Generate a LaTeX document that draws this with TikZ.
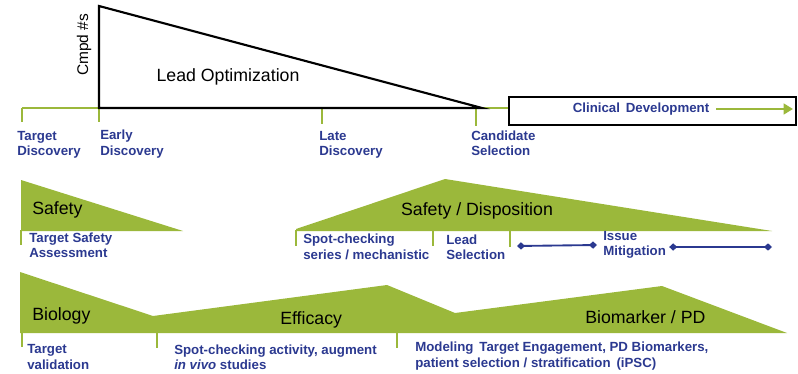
\documentclass[tikz,border=0pt]{standalone}
\usepackage{fontspec}
\setmainfont{Liberation Sans}
\usetikzlibrary{arrows.meta}
\definecolor{leaf}{HTML}{9BB83B}
\definecolor{ink}{HTML}{2B3990}
\begin{document}
\begin{tikzpicture}[x=0.75pt,y=-0.75pt,
  lbl/.style={font=\fontsize{9.95}{11.6}\selectfont\bfseries, text=ink, align=left, inner sep=0pt, anchor=west},
  big/.style={font=\fontsize{13.3}{15}\selectfont, text=black, inner sep=0pt},
  band/.style={fill=leaf, draw=none},
  tick/.style={draw=leaf, line width=2pt},
  span/.style={draw=ink, line width=1.4pt, {Diamond[length=6pt,width=5.5pt]}-{Diamond[length=6pt,width=5.5pt]}}]
\useasboundingbox (0,0) rectangle (798,374);

% ---------- timeline ----------
\coordinate (tStart) at (22,108);
\coordinate (tEarly) at (99,108);
\coordinate (tLate) at (322,108);
\coordinate (tCand) at (476,108);
\coordinate (tEnd) at (508,108);
\draw[tick] (tStart) -- (tEnd);
\draw[tick] (tStart) -- ++(0,14);
\draw[tick] (tEarly) -- ++(0,14);
\draw[tick] (tLate) -- ++(0,16);
\draw[tick] (tCand) -- ++(0,18);

% lead optimization funnel
\coordinate (loTop) at (99,6);
\coordinate (loTip) at (482,108);
\draw[black, line width=1.6pt, line join=miter] (loTop) -- (tEarly) -- (loTip) -- cycle;
\node[big] (lo) at (228,77) {Lead Optimization};
\node[font=\fontsize{11.6}{13}\selectfont, inner sep=0pt, rotate=90] (cmpd) at (84,45) {Cmpd \#s};

% clinical development
\node[draw=black, line width=1.6pt, minimum width=287*0.75pt, minimum height=28*0.75pt,
      inner sep=0pt, anchor=west] (clin) at (508,111) {};
\node[lbl, anchor=center] (clinTxt) at (641,109) {Clinical\, Development};
\coordinate (clinArrowEnd) at (793,109);
\draw[leaf, line width=2.2pt, -{Triangle[length=7pt,width=8pt]}] (clinTxt.east) ++(7,0) -- (clinArrowEnd);

% stage labels
\node[lbl] (tdisc) at (17,145) {Target\\Discovery};
\node[lbl] (edisc) at (100,144) {Early\\Discovery};
\node[lbl] (ldisc) at (319,145) {Late\\Discovery};
\node[lbl] (csel) at (471,143) {Candidate\\Selection};

% ---------- safety row ----------
\fill[band] (21,180) -- (183,231) -- (21,231) -- cycle;
\node[big, anchor=west] (safety) at (32,210) {Safety};
\draw[tick] (21,230) -- (21,245);
\node[lbl] (tsa) at (29,245) {Target Safety\\Assessment};

\fill[band] (296,229) -- (445,179) -- (772,231) -- (296,231) -- cycle;
\node[big] (safdisp) at (477,211) {Safety / Disposition};
\draw[tick] (296,230) -- (296,246);
\draw[tick] (433,230) -- (433,246);
\draw[tick] (510,230) -- (510,247);
\node[lbl] (spot1) at (303,247) {Spot-checking\\series / mechanistic};
\node[lbl] (lsel) at (446,247) {Lead\\Selection};
\node[lbl] (issue) at (603,245) {Issue\\Mitigation};
\draw[span] (517,246) -- (issue.west -| 597,246);
\draw[span] (issue.east |- 670,247) ++(3,0) -- (772,247);

% ---------- biology / efficacy / biomarker row ----------
\fill[band] (20,272) -- (153,316) -- (387,285) -- (455,313) -- (662,286)
  -- (787,333) -- (20,333) -- cycle;
\node[big, anchor=west] (bio) at (32,316) {Biology};
\node[big, anchor=west] (eff) at (280,320) {Efficacy};
\node[big, anchor=west] (bmk) at (585,317) {Biomarker / PD};
\draw[tick] (22,332) -- (22,347);
\draw[tick] (157,332) -- (157,348);
\draw[tick] (397,332) -- (397,348);
\node[lbl] (tval) at (27,357) {Target\\validation};
\node[lbl] (spot2) at (174,357) {Spot-checking activity, augment\\\textit{in vivo} studies};
\node[lbl] (model) at (415,356) {Modeling\, Target Engagement, PD Biomarkers,\\patient selection / stratification\, (iPSC)};
\end{tikzpicture}
\end{document}
